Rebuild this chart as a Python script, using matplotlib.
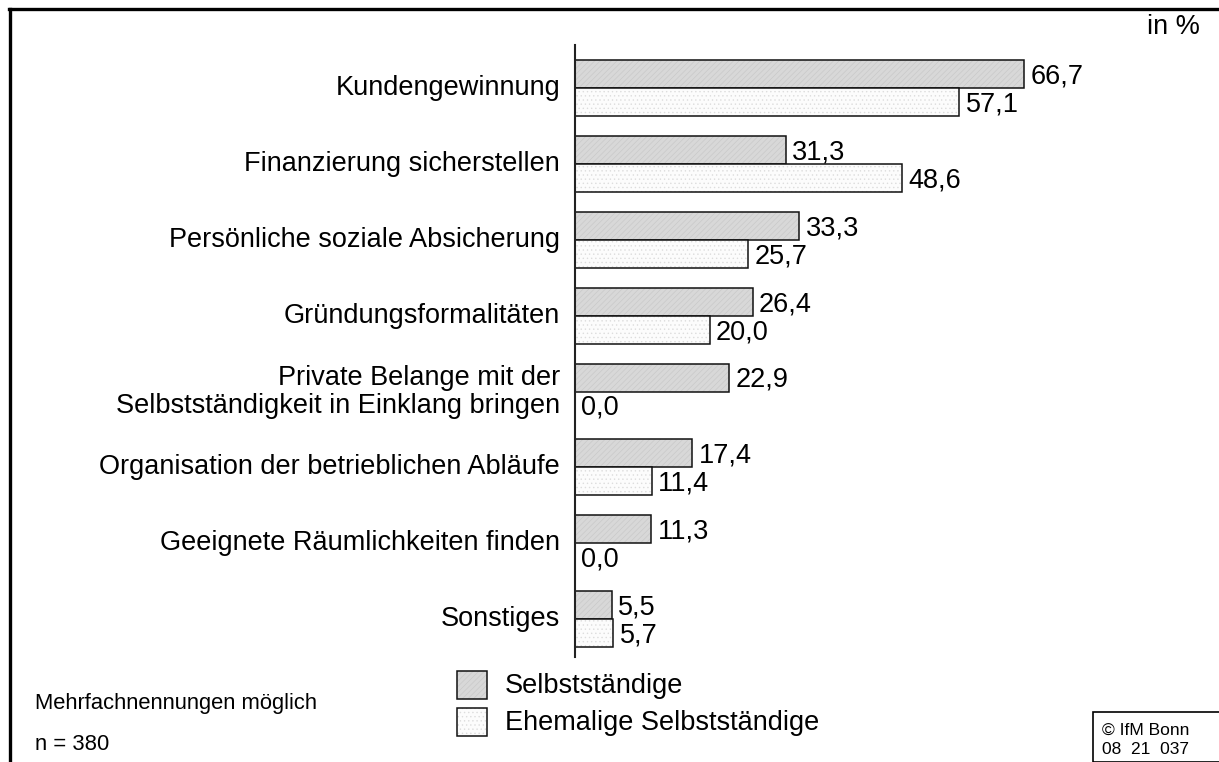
import numpy as np
import matplotlib

matplotlib.use("Agg")
import matplotlib.pyplot as plt
from matplotlib.patches import Rectangle
from matplotlib.lines import Line2D

plt.rcParams["font.family"] = ["Liberation Sans", "DejaVu Sans"]
plt.rcParams["hatch.linewidth"] = 0.5

categories = [
    "Kundengewinnung",
    "Finanzierung sicherstellen",
    "Persönliche soziale Absicherung",
    "Gründungsformalitäten",
    "Private Belange mit der\nSelbstständigkeit in Einklang bringen",
    "Organisation der betrieblichen Abläufe",
    "Geeignete Räumlichkeiten finden",
    "Sonstiges",
]
selbst = [66.7, 31.3, 33.3, 26.4, 22.9, 17.4, 11.3, 5.5]
ehemalige = [57.1, 48.6, 25.7, 20.0, 0.0, 11.4, 0.0, 5.7]
series_names = ["Selbstständige", "Ehemalige Selbstständige"]

W, H = 1219, 762
fig = plt.figure(figsize=(W / 100, H / 100), dpi=100)


def fx(x):
    return x / W


def fy(y):
    return 1 - y / H


# plot area: axis line runs from y=45 to y=657 px, bars start at x=575 px
ax = fig.add_axes([fx(575), fy(657), 1 - fx(575), fy(45) - fy(657)])
ax.set_xlim(0, 644 / 6.73)
ax.set_ylim(7.5, -0.57)

bar_h = 0.369
y = np.arange(len(categories))
styles = [
    dict(face="#d8d8d8", hatch="//////", hcol="#c9c9c9"),
    dict(face="#fcfcfc", hatch="....", hcol="#dddddd"),
]
for vals, off, st in zip([selbst, ehemalige], [-bar_h / 2, bar_h / 2], styles):
    ax.barh(y + off, vals, height=bar_h, color=st["face"], edgecolor="none")
    ax.barh(y + off, vals, height=bar_h, fill=False, hatch=st["hatch"],
            edgecolor=st["hcol"], linewidth=0)
    ax.barh(y + off, vals, height=bar_h, fill=False, edgecolor="#111111",
            linewidth=1.1)
    for yi, v in zip(y + off, vals):
        ax.text(v + 0.95, yi + 0.03, f"{v:.1f}".replace(".", ","),
                fontsize=19.5, va="center", ha="left")

for yi, cat in zip(y, categories):
    ax.text(-2.2, yi, cat, fontsize=19.5, ha="right", va="center",
            linespacing=1.1, clip_on=False)

for s in ["top", "right", "bottom"]:
    ax.spines[s].set_visible(False)
ax.spines["left"].set_linewidth(1.5)
ax.spines["left"].set_color("#222222")
ax.set_xticks([])
ax.set_yticks([])

# outer frame (top and left only)
fig.add_artist(Line2D([fx(9), 1], [fy(8.5), fy(8.5)], color="black", lw=2.4,
                      transform=fig.transFigure))
fig.add_artist(Line2D([fx(9.5), fx(9.5)], [0, fy(8.5)], color="black", lw=2.4,
                      transform=fig.transFigure))

fig.text(fx(1200), fy(27), "in %", fontsize=19.5, ha="right", va="center")

# legend
for i, (name, st) in enumerate(zip(series_names, styles)):
    top = 671 + i * 37
    for kw in [dict(facecolor=st["face"], edgecolor="none"),
               dict(fill=False, hatch=st["hatch"], edgecolor=st["hcol"], lw=0),
               dict(fill=False, edgecolor="#111111", lw=1.1)]:
        fig.add_artist(Rectangle((fx(457), fy(top + 28)), fx(30), 28 / H,
                                 transform=fig.transFigure, **kw))
    fig.text(fx(505), fy(top + 15), name, fontsize=19.5, va="center")

fig.text(fx(35), fy(703), "Mehrfachnennungen möglich", fontsize=15.8, va="center")
fig.text(fx(35), fy(745), "n = 380", fontsize=15.8, va="center")

# source box
fig.add_artist(Rectangle((fx(1093), 0), 1, fy(712), transform=fig.transFigure,
                         fill=False, edgecolor="black", lw=1.2))
fig.text(fx(1146), fy(730), "© IfM Bonn", fontsize=12.5, ha="center", va="center")
fig.text(fx(1146), fy(750), "08  21  037", fontsize=12.5, ha="center", va="center")

fig.savefig("out.png", dpi=100)
